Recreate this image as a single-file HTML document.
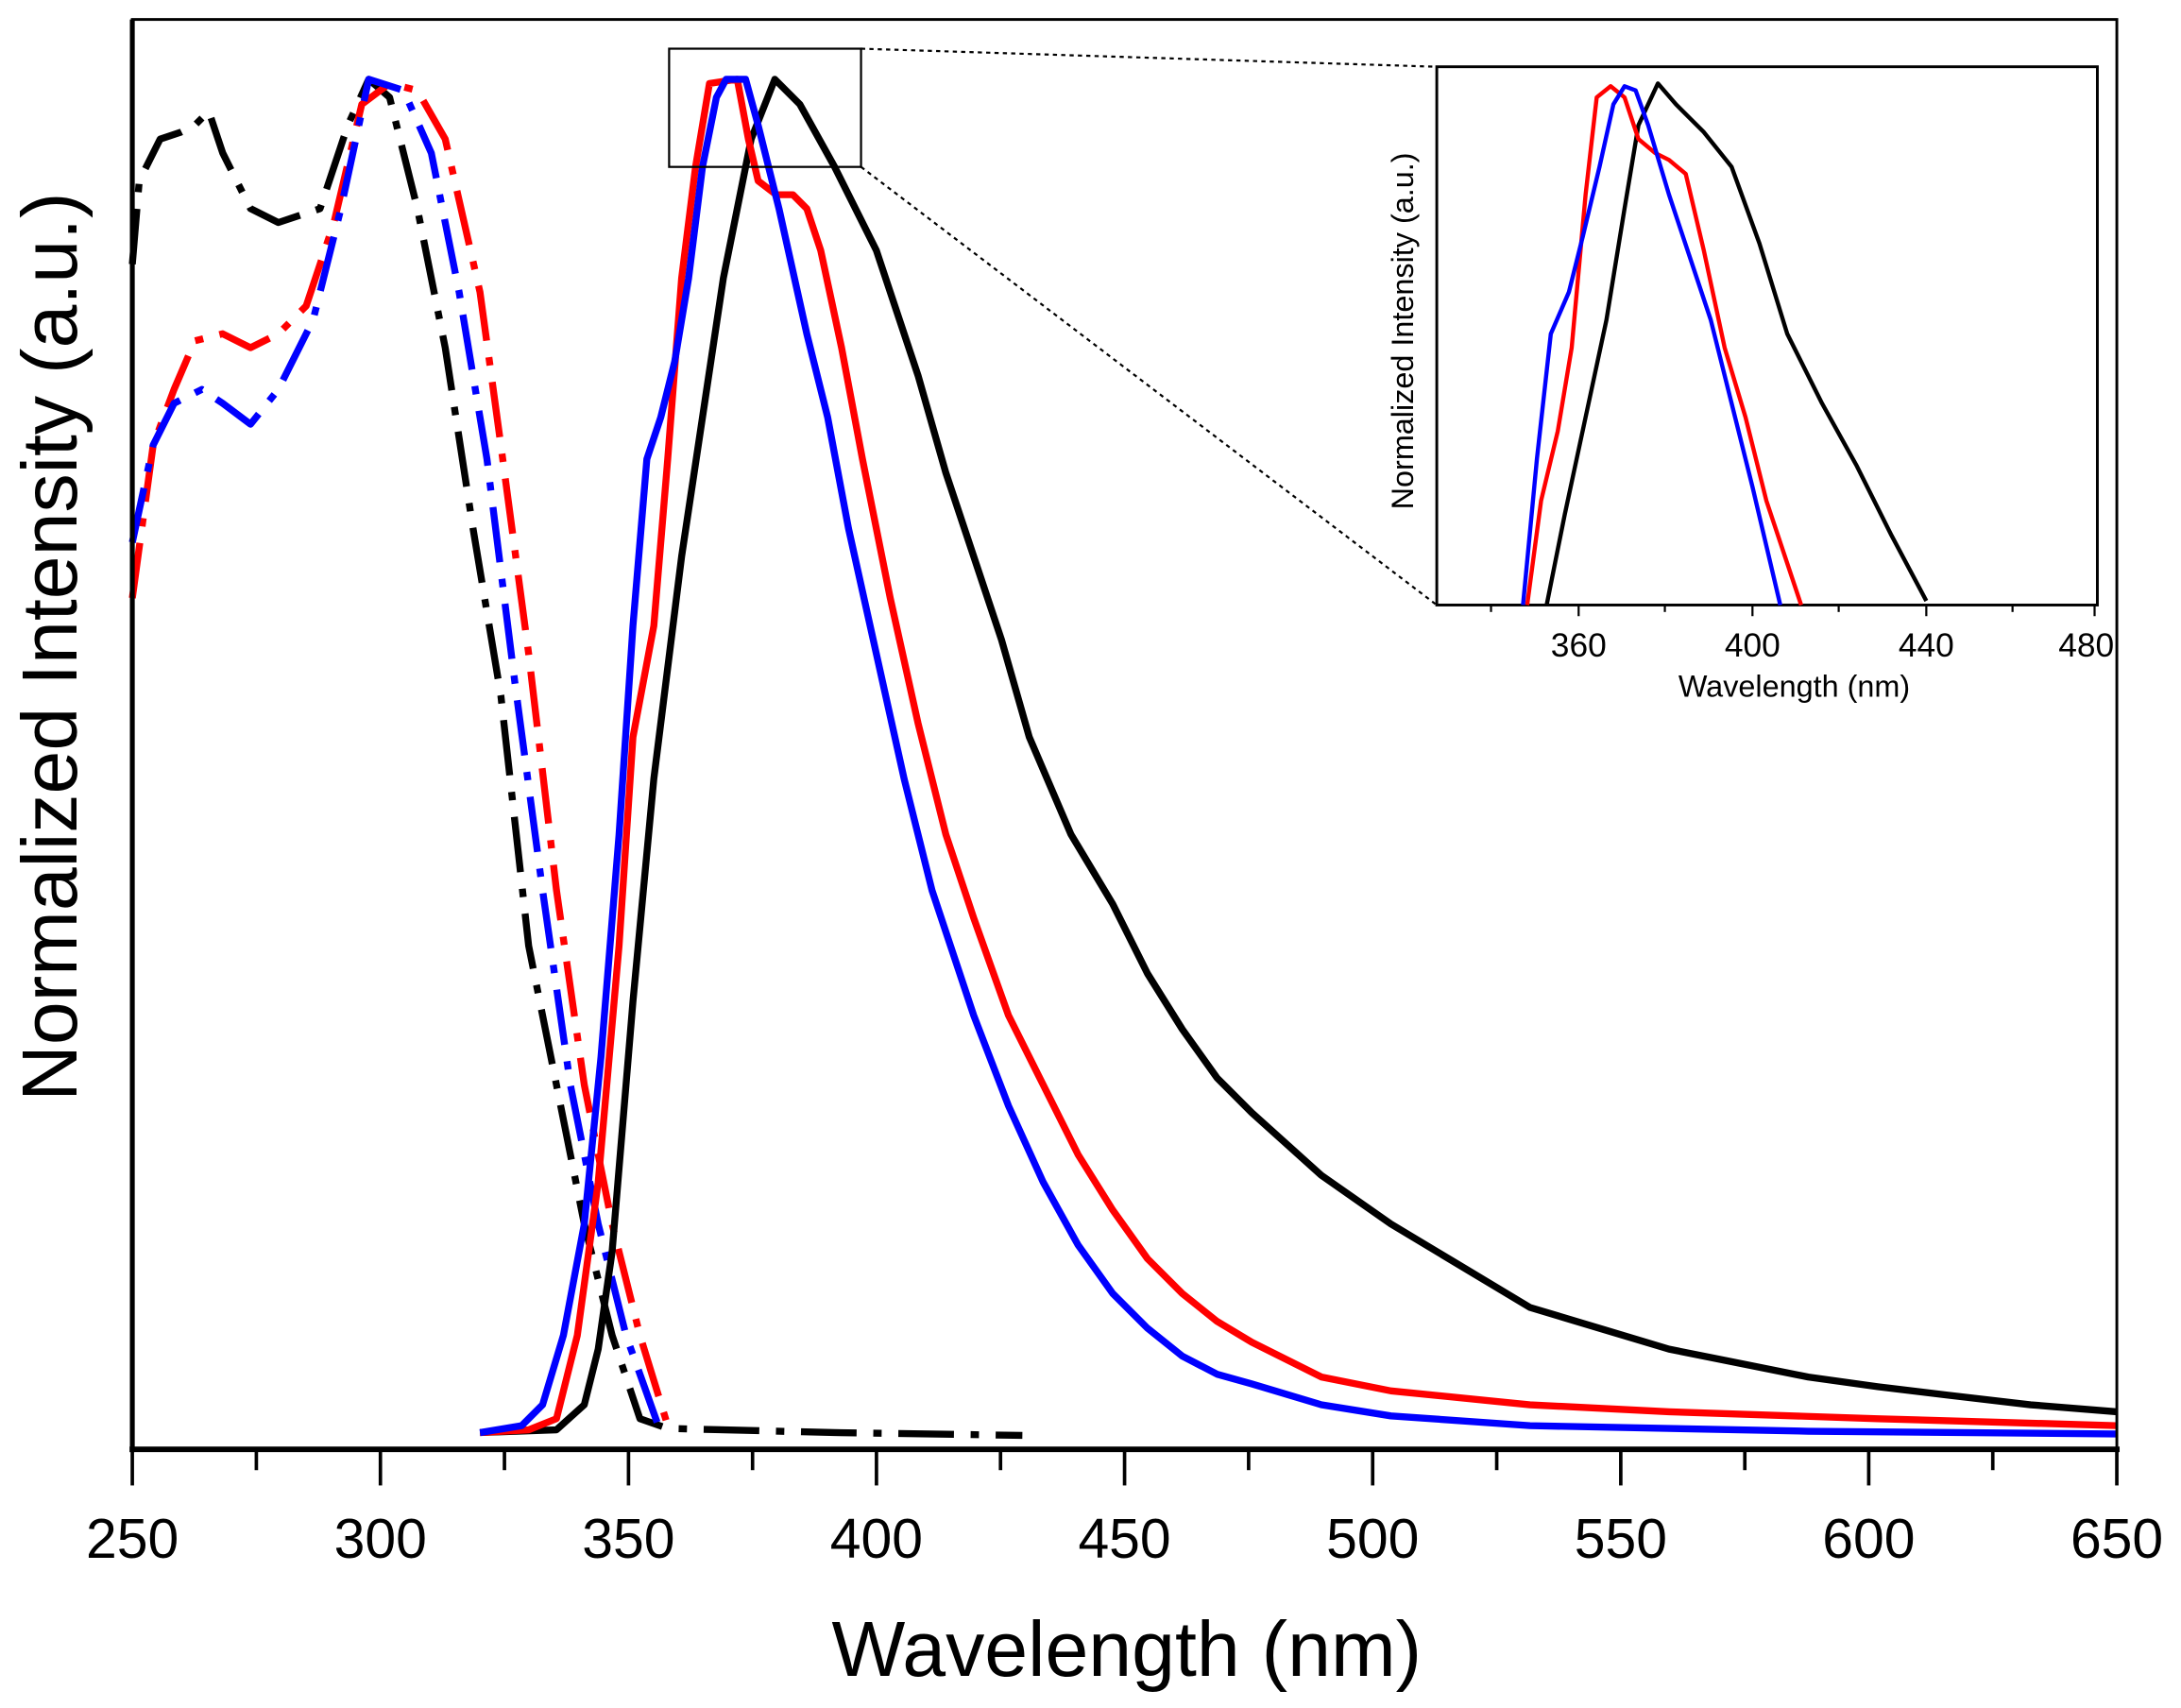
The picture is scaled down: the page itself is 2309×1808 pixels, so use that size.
<!DOCTYPE html>
<html><head><meta charset="utf-8"><style>html,body{margin:0;padding:0;background:#fff}svg{display:block}</style></head><body>
<svg width="2309" height="1808" viewBox="0 0 1568 1228" xmlns="http://www.w3.org/2000/svg" font-family="Liberation Sans, Arial, sans-serif">
<rect width="1568" height="1228" fill="#fff"/>
<!-- absorption dash-dot -->
<g fill="none" stroke-width="5" stroke-linejoin="round" stroke-dasharray="40 12 6 12">
<polyline stroke="#000" points="95,190 100,130 115,100 130,95 140,90 150,80 160,110 180,150 200,160 230,150 250,90 265,57 280,70 300,150 320,250 340,380 360,500 380,680 400,780 420,880 440,960 460,1020 480,1027 600,1030 735,1032"/>
<polyline stroke="#f00" points="95,430 110,320 125,280 140,245 160,240 180,250 200,240 220,220 240,160 260,75 280,60 300,65 320,100 345,210 360,320 380,470 400,640 420,780 440,880 460,960 480,1025"/>
<polyline stroke="#00f" points="95,390 110,320 125,290 145,280 160,290 180,305 200,280 225,230 245,150 265,57 290,65 310,110 330,210 350,330 370,490 390,640 410,780 430,880 450,960 475,1030"/>
</g>
<!-- emission -->
<g fill="none" stroke-width="5" stroke-linejoin="round">
<polyline stroke="#000" points="345,1030 400,1028 420,1010 430,970 440,900 455,720 470,560 490,400 505,300 520,200 540,100 557,57 575,75 600,120 630,180 660,270 680,340 700,400 720,460 740,530 770,600 800,650 825,700 850,740 875,775 900,800 950,845 1000,880 1050,910 1100,940 1150,955 1200,970 1250,980 1300,990 1350,997 1400,1003 1460,1010 1522,1015"/>
<polyline stroke="#f00" points="345,1030 380,1028 400,1020 415,960 430,850 445,680 455,530 470,450 480,330 490,200 500,120 510,60 530,57 538,100 545,130 558,140 570,140 580,150 590,180 605,250 620,330 640,430 660,520 680,600 700,660 725,730 750,780 775,830 800,870 825,905 850,930 875,950 900,965 950,990 1000,1000 1100,1010 1200,1015 1350,1020 1522,1025"/>
<polyline stroke="#00f" points="345,1030 375,1025 390,1010 405,960 420,880 432,760 445,600 455,450 465,330 475,300 485,260 495,200 505,120 515,70 522,57 536,57 545,90 560,150 570,195 580,240 595,300 610,380 630,470 650,560 670,640 700,730 725,795 750,850 775,895 800,930 825,955 850,975 875,988 900,995 950,1010 1000,1018 1100,1025 1300,1029 1522,1031"/>
</g>
<!-- frame -->
<rect x="95" y="14" width="1427" height="1028" fill="none" stroke="#000" stroke-width="2"/>
<line x1="95" y1="14" x2="95" y2="1044" stroke="#000" stroke-width="3.5"/>
<line x1="93" y1="1042" x2="1524" y2="1042" stroke="#000" stroke-width="4"/>
<g stroke="#000" stroke-width="2.5">
<line x1="95" y1="1042" x2="95" y2="1068"/><line x1="273.4" y1="1042" x2="273.4" y2="1068"/><line x1="451.8" y1="1042" x2="451.8" y2="1068"/><line x1="630.1" y1="1042" x2="630.1" y2="1068"/><line x1="808.5" y1="1042" x2="808.5" y2="1068"/><line x1="986.9" y1="1042" x2="986.9" y2="1068"/><line x1="1165.3" y1="1042" x2="1165.3" y2="1068"/><line x1="1343.6" y1="1042" x2="1343.6" y2="1068"/><line x1="1522" y1="1042" x2="1522" y2="1068"/>
<line x1="184.2" y1="1042" x2="184.2" y2="1057"/><line x1="362.6" y1="1042" x2="362.6" y2="1057"/><line x1="541" y1="1042" x2="541" y2="1057"/><line x1="719.3" y1="1042" x2="719.3" y2="1057"/><line x1="897.7" y1="1042" x2="897.7" y2="1057"/><line x1="1076.1" y1="1042" x2="1076.1" y2="1057"/><line x1="1254.5" y1="1042" x2="1254.5" y2="1057"/><line x1="1432.8" y1="1042" x2="1432.8" y2="1057"/>
</g>
<g font-size="40" text-anchor="middle" fill="#000">
<text x="95" y="1120">250</text><text x="273.4" y="1120">300</text><text x="451.8" y="1120">350</text><text x="630.1" y="1120">400</text><text x="808.5" y="1120">450</text><text x="986.9" y="1120">500</text><text x="1165.3" y="1120">550</text><text x="1343.6" y="1120">600</text><text x="1522" y="1120">650</text>
</g>
<text x="810" y="1205" font-size="56" text-anchor="middle">Wavelength (nm)</text>
<text transform="translate(55,465) rotate(-90)" font-size="56" text-anchor="middle">Normalized Intensity (a.u.)</text>
<!-- zoom box -->
<rect x="481" y="35" width="138" height="85" fill="none" stroke="#000" stroke-width="1.5"/>
<line x1="619" y1="35" x2="1033" y2="48" stroke="#000" stroke-width="1.5" stroke-dasharray="3 3"/>
<line x1="619" y1="120" x2="1033" y2="435" stroke="#000" stroke-width="1.5" stroke-dasharray="3 3"/>
<!-- inset -->
<rect x="1033" y="48" width="475" height="387" fill="#fff" stroke="#000" stroke-width="2"/>
<g fill="none" stroke-width="3" stroke-linejoin="round">
<polyline stroke="#000" points="1112,435 1125,370 1140,300 1155,230 1168,150 1178,90 1192,60 1205,75 1225,95 1245,120 1265,175 1285,240 1310,290 1335,335 1360,385 1385,432"/>
<polyline stroke="#f00" points="1098,435 1108,360 1120,310 1130,250 1140,140 1148,70 1158,62 1168,70 1178,100 1190,110 1200,115 1212,125 1225,180 1240,250 1255,300 1270,360 1290,420 1295,435"/>
<polyline stroke="#00f" points="1095,435 1105,330 1115,240 1128,210 1138,170 1150,120 1160,75 1168,62 1176,65 1185,90 1200,140 1215,185 1230,230 1245,290 1260,350 1280,435"/>
</g>
<g stroke="#000" stroke-width="1.5">
<line x1="1135" y1="435" x2="1135" y2="443"/><line x1="1260" y1="435" x2="1260" y2="443"/><line x1="1385" y1="435" x2="1385" y2="443"/><line x1="1506" y1="435" x2="1506" y2="443"/>
<line x1="1072" y1="435" x2="1072" y2="440"/><line x1="1197" y1="435" x2="1197" y2="440"/><line x1="1322" y1="435" x2="1322" y2="440"/><line x1="1447" y1="435" x2="1447" y2="440"/>
</g>
<g font-size="24" text-anchor="middle">
<text x="1135" y="472">360</text><text x="1260" y="472">400</text><text x="1385" y="472">440</text><text x="1500" y="472">480</text>
</g>
<text x="1290" y="501" font-size="22" text-anchor="middle">Wavelength (nm)</text>
<text transform="translate(1016,238) rotate(-90)" font-size="22" text-anchor="middle">Normalized Intensity (a.u.)</text>
</svg>
</body></html>
